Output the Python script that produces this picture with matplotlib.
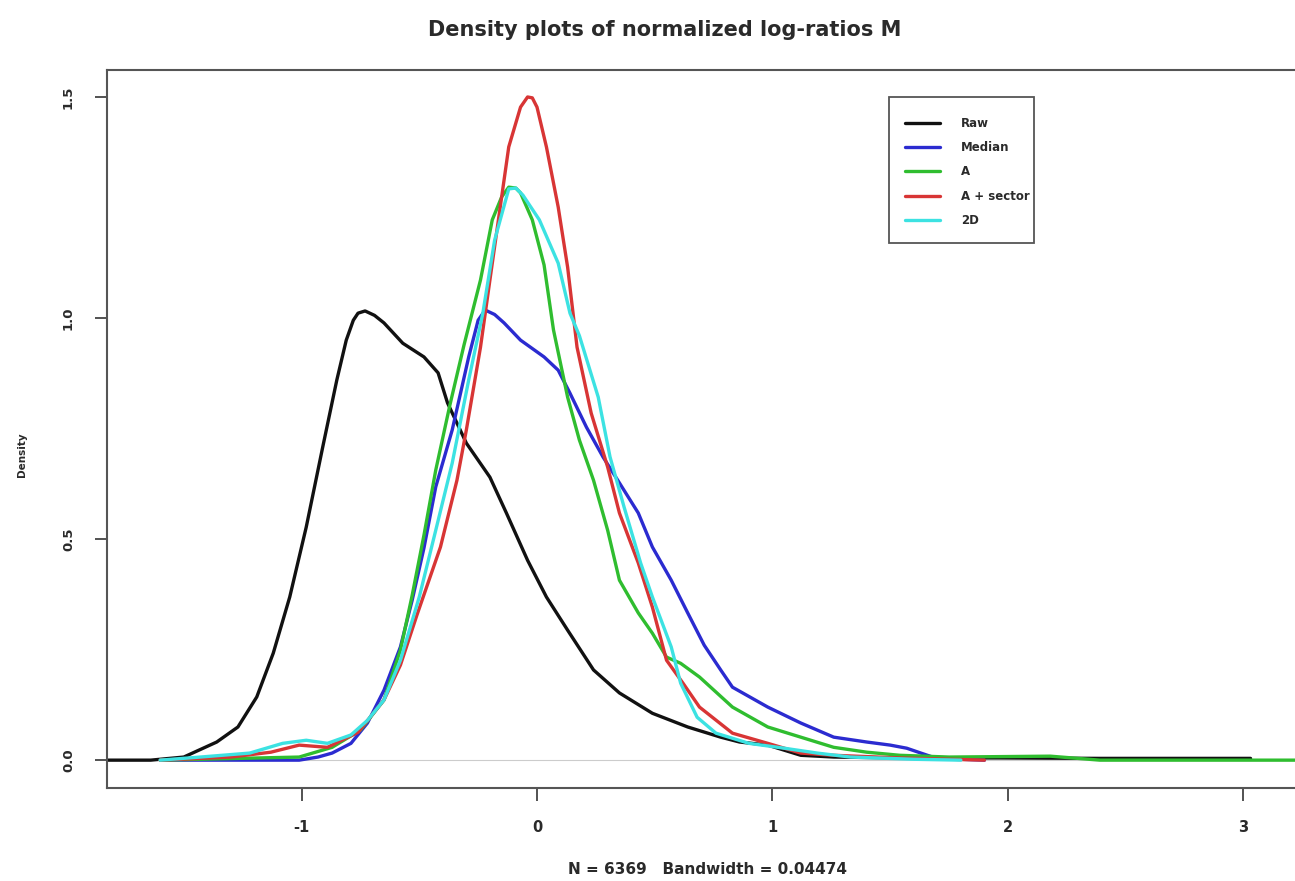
import matplotlib
matplotlib.use("Agg")
import matplotlib.pyplot as plt
from matplotlib.patches import Rectangle

plt.rcParams['font.family'] = ['DejaVu Sans']

# density curves (x = log-ratio M, y = density)
raw_x = [-1.83, -1.64, -1.50, -1.36, -1.27, -1.19, -1.12, -1.05, -0.98, -0.91, -0.85, -0.81,
         -0.78, -0.76, -0.73, -0.69, -0.65, -0.57, -0.48, -0.42, -0.38, -0.30, -0.20, -0.13,
         -0.04, 0.04, 0.13, 0.24, 0.35, 0.49, 0.64, 0.78, 0.86, 0.98, 1.12, 1.26, 1.54, 1.97,
         2.39, 3.03]
raw_y = [0.0, 0.0, 0.007, 0.041, 0.075, 0.143, 0.242, 0.369, 0.527, 0.708, 0.860, 0.950,
         0.995, 1.011, 1.016, 1.006, 0.989, 0.943, 0.912, 0.876, 0.808, 0.717, 0.640, 0.559,
         0.452, 0.369, 0.294, 0.204, 0.152, 0.106, 0.075, 0.052, 0.041, 0.034, 0.011, 0.007,
         0.005, 0.005, 0.004, 0.004]

median_x = [-1.60, -1.20, -1.01, -0.93, -0.87, -0.79, -0.72, -0.65, -0.58, -0.53, -0.48, -0.43,
            -0.36, -0.29, -0.25, -0.22, -0.18, -0.14, -0.07, 0.03, 0.09, 0.14, 0.21, 0.28,
            0.35, 0.43, 0.49, 0.57, 0.64, 0.71, 0.78, 0.83, 0.98, 1.12, 1.26, 1.40, 1.50,
            1.57, 1.63, 1.68, 1.80, 1.90]
median_y = [0.0, 0.0, 0.0, 0.007, 0.016, 0.038, 0.084, 0.158, 0.256, 0.362, 0.480, 0.618,
            0.747, 0.912, 0.995, 1.018, 1.008, 0.989, 0.950, 0.912, 0.882, 0.830, 0.753, 0.686,
            0.627, 0.559, 0.482, 0.407, 0.333, 0.260, 0.204, 0.165, 0.120, 0.084, 0.052, 0.041,
            0.034, 0.027, 0.016, 0.007, 0.002, 0.0]

a_x = [-1.60, -1.01, -0.87, -0.75, -0.65, -0.58, -0.53, -0.48, -0.43, -0.37, -0.31, -0.24,
       -0.19, -0.15, -0.12, -0.09, -0.07, -0.02, 0.03, 0.07, 0.13, 0.18, 0.24, 0.30, 0.35,
       0.43, 0.49, 0.55, 0.61, 0.69, 0.83, 0.98, 1.12, 1.26, 1.40, 1.54, 1.75, 2.18, 2.39,
       2.82, 3.24]
a_y = [0.0, 0.007, 0.029, 0.068, 0.136, 0.249, 0.373, 0.509, 0.656, 0.803, 0.939, 1.086,
       1.222, 1.274, 1.296, 1.294, 1.283, 1.222, 1.120, 0.973, 0.821, 0.724, 0.633, 0.520,
       0.407, 0.333, 0.287, 0.233, 0.219, 0.188, 0.120, 0.075, 0.052, 0.029, 0.018, 0.011,
       0.007, 0.009, 0.0, 0.0, 0.0]

sector_x = [-1.60, -1.30, -1.13, -1.01, -0.89, -0.76, -0.65, -0.58, -0.51, -0.41, -0.34, -0.30,
            -0.24, -0.20, -0.17, -0.12, -0.07, -0.04, -0.02, 0.0, 0.04, 0.09, 0.13, 0.17, 0.23,
            0.30, 0.35, 0.43, 0.49, 0.55, 0.62, 0.69, 0.83, 0.98, 1.12, 1.26, 1.54, 1.90]
sector_y = [0.0, 0.007, 0.018, 0.034, 0.029, 0.063, 0.136, 0.215, 0.328, 0.482, 0.633, 0.747,
            0.934, 1.086, 1.199, 1.387, 1.477, 1.500, 1.498, 1.477, 1.387, 1.251, 1.115, 0.934,
            0.785, 0.663, 0.559, 0.446, 0.346, 0.226, 0.174, 0.120, 0.061, 0.038, 0.016, 0.011,
            0.005, 0.0]

d2_x = [-1.60, -1.43, -1.22, -1.08, -0.98, -0.89, -0.79, -0.72, -0.65, -0.58, -0.50, -0.43,
        -0.36, -0.29, -0.23, -0.18, -0.12, -0.09, -0.06, 0.01, 0.09, 0.14, 0.18, 0.26, 0.31,
        0.37, 0.44, 0.49, 0.57, 0.61, 0.68, 0.76, 0.90, 1.05, 1.19, 1.33, 1.60, 1.80]
d2_y = [0.0, 0.007, 0.016, 0.038, 0.045, 0.038, 0.057, 0.090, 0.136, 0.226, 0.369, 0.520,
        0.672, 0.860, 1.011, 1.176, 1.292, 1.294, 1.278, 1.222, 1.124, 1.011, 0.960, 0.821,
        0.686, 0.572, 0.446, 0.369, 0.256, 0.174, 0.097, 0.061, 0.038, 0.027, 0.016, 0.007,
        0.002, 0.0]

series = [
    ("Raw", raw_x, raw_y, "#111111"),
    ("Median", median_x, median_y, "#2b2bd0"),
    ("A", a_x, a_y, "#2fbd2f"),
    ("A + sector", sector_x, sector_y, "#d83535"),
    ("2D", d2_x, d2_y, "#3ce2e2"),
]

fig = plt.figure(figsize=(12.95, 8.81), dpi=100)
W, H = 1295.0, 881.0
ax = fig.add_axes([107 / W, 93 / H, (1300 - 107) / W, (788 - 70) / H])

ax.axhline(0, color="#cccccc", lw=0.8, zorder=1)
for name, xs, ys, col in series:
    ax.plot(xs, ys, color=col, lw=2.4, label=name, solid_joinstyle="round",
            solid_capstyle="round", zorder=2)

ax.set_xlim(-1.826, 3.240)
ax.set_ylim(-0.063, 1.561)
ax.set_xticks([-1, 0, 1, 2, 3])
ax.set_xticklabels(["-1", "0", "1", "2", "3"], fontweight="bold", fontsize=10.5)
ax.set_yticks([0, 0.5, 1.0, 1.5])
ax.set_yticklabels(["0.0", "0.5", "1.0", "1.5"], rotation=90, va="center",
                   fontweight="bold", fontsize=9.5)
ax.tick_params(direction="out", length=9, width=1.3, color="#444444",
               labelcolor="#2a2a2a", pad=14)
for s in ax.spines.values():
    s.set_color("#555555")
    s.set_linewidth(1.5)

fig.text(665 / W, 1 - 30 / H, "Density plots of normalized log-ratios M",
         ha="center", va="center", fontsize=15, fontweight="bold", color="#2a2a2a")
fig.text(707 / W, 1 - 870 / H, "N = 6369   Bandwidth = 0.04474",
         ha="center", va="center", fontsize=11, fontweight="bold", color="#2a2a2a")
fig.text(22 / W, 1 - 455 / H, "Density", rotation=90,
         ha="center", va="center", fontsize=7.5, fontweight="bold", color="#2a2a2a")

# legend box drawn separately (R style), entries on top of it
box = Rectangle((889 / W, 1 - 243 / H), 145 / W, 146 / H, transform=fig.transFigure,
                facecolor="white", edgecolor="#555555", lw=1.3, zorder=3, clip_on=False)
ax.add_patch(box)
leg = ax.legend(loc="upper left", bbox_to_anchor=(905 / W, 1 - 117 / H),
                bbox_transform=fig.transFigure, frameon=False,
                prop={"size": 8.5, "weight": "bold"},
                handlelength=3.0, handletextpad=1.75, labelspacing=0.95,
                borderpad=0, borderaxespad=0)
leg.set_zorder(5)
for t in leg.get_texts():
    t.set_color("#2a2a2a")

fig.savefig("out.png", dpi=100)
